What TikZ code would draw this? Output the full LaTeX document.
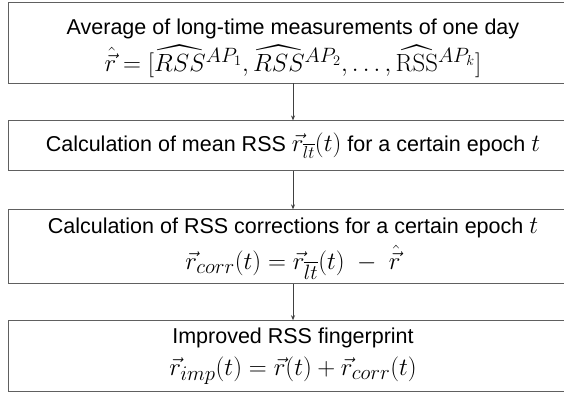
\documentclass[tikz,border=0pt]{standalone}
\usepackage{amsmath,amssymb}
\usepackage[no-math]{fontspec}
\setmainfont{Liberation Sans}
\usepackage{tikz}
\usetikzlibrary{arrows.meta, positioning}

\newcommand{\eqsize}{\fontsize{31}{34}\selectfont}
\newcommand{\varsize}{\fontsize{26}{30}\selectfont}

\begin{document}
\begin{tikzpicture}[
  x=1pt, y=1pt,
  every node/.style = {font=\fontsize{21.5}{34}\selectfont},
  stepbox/.style    = {draw=gray!75!black, line width=0.9pt, inner sep=0pt,
                       minimum width=570pt, align=center},
  flow/.style       = {-{Stealth[length=5pt, width=4pt]}, line width=0.8pt, black!75},
]

%% ── Frame: same size as the reference ────────────────────────────────────
\useasboundingbox (0,0) rectangle (564,-394);

% ── Step boxes, top to bottom ───────────────────────────────────────────────
\node[stepbox, minimum height=81pt] (avg) at (293,-42.5)
  {\rule{0pt}{28pt}Average of long-time measurements of one day\\[3pt]
   {\eqsize $\hat{\vec{r}} = [\widehat{RSS}{}^{AP_1}, \widehat{RSS}{}^{AP_2}, \dots, \widehat{\mathrm{RSS}}{}^{AP_k}]$}};

\node[stepbox, minimum height=50pt, below=37pt of avg] (mean)
  {Calculation of mean RSS {\varsize$\vec{r}_{\overline{lt}}(t)$} for a certain epoch {\varsize$t$}};

\node[stepbox, minimum height=74pt, below=38pt of mean] (corr)
  {\rule{0pt}{20pt}Calculation of RSS corrections for a certain epoch {\varsize$t$}\\[2pt]
   {\eqsize $\vec{r}_{corr}(t) = \vec{r}_{\overline{lt}}(t) \;-\; \hat{\vec{r}}$}};

\node[stepbox, minimum height=71pt, below=36pt of corr] (imp)
  {Improved RSS fingerprint\\[-2pt]
   {\eqsize $\vec{r}_{imp}(t) = \vec{r}(t) + \vec{r}_{corr}(t)$}};

% ── Connectors ──────────────────────────────────────────────────────────────
\draw[flow] (avg)  -- (mean);
\draw[flow] (mean) -- (corr);
\draw[flow] (corr) -- (imp);

\end{tikzpicture}
\end{document}
